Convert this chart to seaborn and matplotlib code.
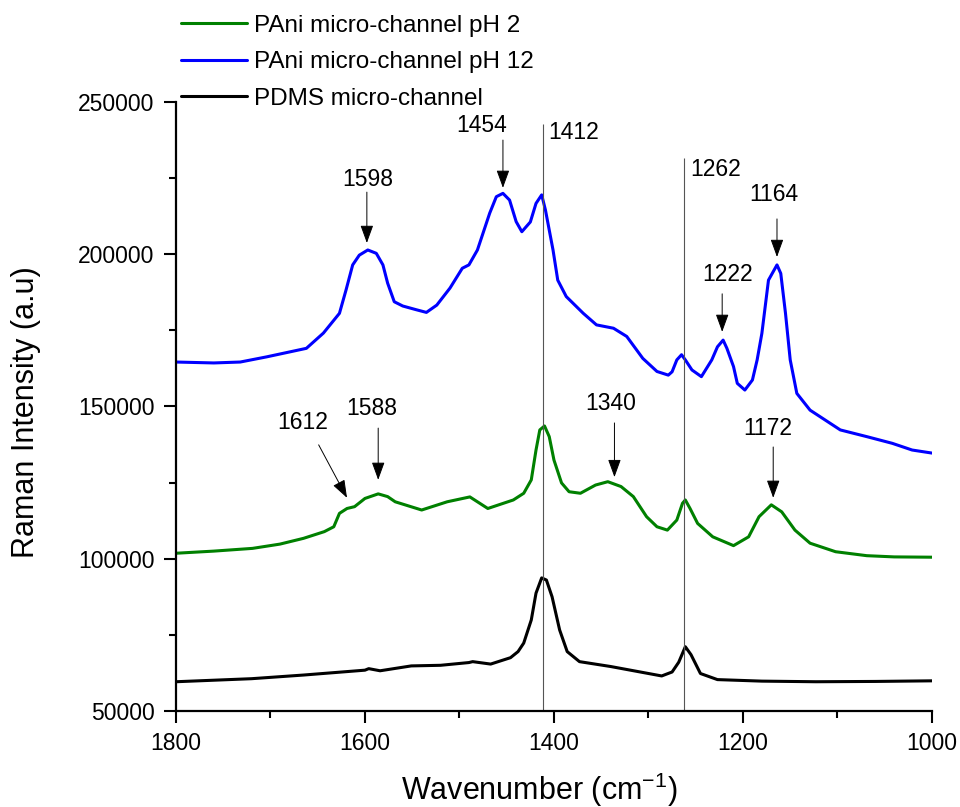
import numpy as np
import pandas as pd
import matplotlib.pyplot as plt
import seaborn as sns

# Raman spectra (wavenumber in cm-1, intensity in a.u.)
ph2_wn = [1800, 1760, 1719, 1690, 1665, 1643, 1633, 1627, 1619, 1611, 1600, 1586, 1576,
          1568, 1540, 1513, 1489, 1470, 1443, 1432, 1424, 1419, 1415, 1410, 1405, 1400,
          1392, 1384, 1372, 1356, 1343, 1329, 1316, 1302, 1291, 1280, 1270, 1264, 1261,
          1256, 1248, 1232, 1210, 1194, 1183, 1170, 1159, 1145, 1129, 1102, 1069, 1040, 1000]
ph2_int = [101800, 102500, 103400, 104800, 106700, 108900, 110500, 114900, 116500, 117100,
           119800, 121300, 120400, 118700, 116000, 118700, 120300, 116500, 119300, 121500,
           125900, 135700, 142300, 143600, 140100, 132400, 124900, 122000, 121500, 124200,
           125300, 123700, 120400, 113800, 110500, 109400, 112700, 118200, 119300, 116500,
           111600, 107200, 104300, 107200, 113800, 117700, 115400, 109400, 105100, 102300,
           101000, 100600, 100500]

ph12_wn = [1800, 1760, 1732, 1704, 1662, 1644, 1627, 1620, 1613, 1606, 1597, 1588, 1581,
           1576, 1569, 1560, 1546, 1535, 1524, 1510, 1497, 1490, 1481, 1468, 1461, 1454,
           1447, 1440, 1434, 1425, 1419, 1413, 1409, 1401, 1396, 1387, 1369, 1355, 1337,
           1323, 1306, 1291, 1279, 1275, 1270, 1265, 1261, 1254, 1244, 1233, 1227, 1221,
           1217, 1210, 1206, 1198, 1190, 1185, 1180, 1173, 1164, 1160, 1155, 1150, 1143,
           1129, 1097, 1069, 1042, 1021, 1000]
ph12_int = [164600, 164300, 164600, 166300, 169100, 174100, 180600, 188300, 196500, 199700,
            201400, 200300, 196500, 190500, 184400, 183000, 181800, 180900, 183300, 188900,
            195400, 196500, 201400, 213500, 218900, 220000, 217800, 210700, 207400, 210600,
            216700, 219500, 214500, 201400, 191500, 186100, 180600, 176800, 175700, 173000,
            165800, 161500, 160300, 161400, 165300, 167000, 165300, 162000, 159800, 165300,
            169600, 171800, 169100, 163100, 157600, 155400, 158700, 165300, 174000, 191500,
            196500, 193700, 180600, 165300, 154300, 148800, 142300, 140100, 137900, 135700,
            134700]

pdms_wn = [1800, 1720, 1665, 1600, 1596, 1584, 1551, 1520, 1490, 1486, 1467, 1446, 1438,
           1432, 1424, 1419, 1413, 1408, 1402, 1394, 1386, 1373, 1340, 1286, 1275, 1268,
           1261, 1255, 1245, 1227, 1180, 1123, 1060, 1000]
pdms_int = [59600, 60600, 61800, 63400, 63900, 63200, 64800, 65000, 65900, 66200, 65400,
            67500, 69500, 72300, 79900, 88700, 93700, 93000, 87500, 76600, 69500, 66200,
            64600, 61500, 62800, 66000, 71100, 68500, 62300, 60300, 59800, 59600, 59700,
            59900]

series_names = ["PAni micro-channel pH 2", "PAni micro-channel pH 12", "PDMS micro-channel"]
series_colors = ["#008000", "#0000ff", "#000000"]

# peak markers: label, arrow tip (wn, intensity), arrow tail, text centre
peak_labels = ["1598", "1454", "1164", "1222", "1612", "1588", "1340", "1172"]
arrow_tip = [(1598, 203700), (1454, 221800), (1164, 199100), (1222, 174500),
             (1619, 120000), (1586, 125900), (1336, 126800), (1168, 120000)]
arrow_tail = [(1598, 220400), (1454, 237500), (1164, 211600), (1222, 187000),
              (1649, 137400), (1586, 142900), (1336, 144600), (1168, 136700)]
label_pos = [(1597, 224700), (1477, 242400), (1167, 219500), (1216, 193500),
             (1666, 144900), (1593, 149500), (1340, 151100), (1174, 142900)]

# reference lines
ref_wn = [1412, 1262]
ref_top = [242800, 231600]
ref_text_pos = [(1406, 240100), (1256, 227700)]

df = pd.concat([
    pd.DataFrame({"wn": ph2_wn, "intensity": ph2_int, "series": series_names[0]}),
    pd.DataFrame({"wn": ph12_wn, "intensity": ph12_int, "series": series_names[1]}),
    pd.DataFrame({"wn": pdms_wn, "intensity": pdms_int, "series": series_names[2]}),
])

sns.set_style("ticks")
plt.rcParams["font.family"] = ["Liberation Sans", "DejaVu Sans"]
plt.rcParams["mathtext.fontset"] = "custom"
plt.rcParams["mathtext.rm"] = "Liberation Sans"
plt.rcParams["mathtext.it"] = "Liberation Sans"
for key in ["text.color", "axes.labelcolor", "xtick.color", "ytick.color", "axes.edgecolor"]:
    plt.rcParams[key] = "black"

fig = plt.figure(figsize=(9.6, 8.07), dpi=100)
ax = fig.add_axes([0.1833, 0.119, 0.7875, 0.7546])

sns.lineplot(data=df, x="wn", y="intensity", hue="series", hue_order=series_names,
             palette=series_colors, estimator=None, sort=True, linewidth=2.2, ax=ax)

ax.vlines(ref_wn, 50000, ref_top, color="#555555", linewidth=0.8)
for lab, (tx, ty) in zip(ref_wn, ref_text_pos):
    ax.text(tx, ty, str(lab), fontsize=16.5, ha="left", va="center")

for lab, tip, tail, pos in zip(peak_labels, arrow_tip, arrow_tail, label_pos):
    ax.annotate("", xy=tip, xytext=tail,
                arrowprops=dict(arrowstyle="-|>,head_length=0.55,head_width=0.2",
                                color="black", lw=0.7, mutation_scale=20,
                                shrinkA=0, shrinkB=0))
    ax.text(pos[0], pos[1], lab, fontsize=16.5, ha="center", va="center")

ax.set_xlim(1800, 1000)
ax.set_ylim(50000, 250000)
ax.set_xticks([1800, 1600, 1400, 1200, 1000])
ax.set_xticks([1700, 1500, 1300, 1100], minor=True)
ax.set_yticks([50000, 100000, 150000, 200000, 250000])
ax.set_yticks([75000, 125000, 175000, 225000], minor=True)
ax.tick_params(which="major", direction="out", length=8.5, width=1.5, labelsize=16.5, pad=7)
ax.tick_params(which="minor", direction="out", length=5, width=1.5)
for s in ["left", "bottom"]:
    ax.spines[s].set_linewidth(1.6)
sns.despine(ax=ax)

ax.set_xlabel("Wavenumber (cm$^{-1}$)", fontsize=22)
ax.set_ylabel("Raman Intensity (a.u)", fontsize=22)
ax.xaxis.set_label_coords(0.48, -0.098)
ax.yaxis.set_label_coords(-0.178, 0.49)

handles, labels = ax.get_legend_handles_labels()
ax.legend(handles, labels, loc="upper left", bbox_to_anchor=(0.178, 0.994),
          bbox_transform=fig.transFigure, frameon=False, fontsize=17.5,
          handlelength=2.75, handletextpad=0.28, labelspacing=0.6, borderaxespad=0)

fig.savefig("out.png", dpi=100)
